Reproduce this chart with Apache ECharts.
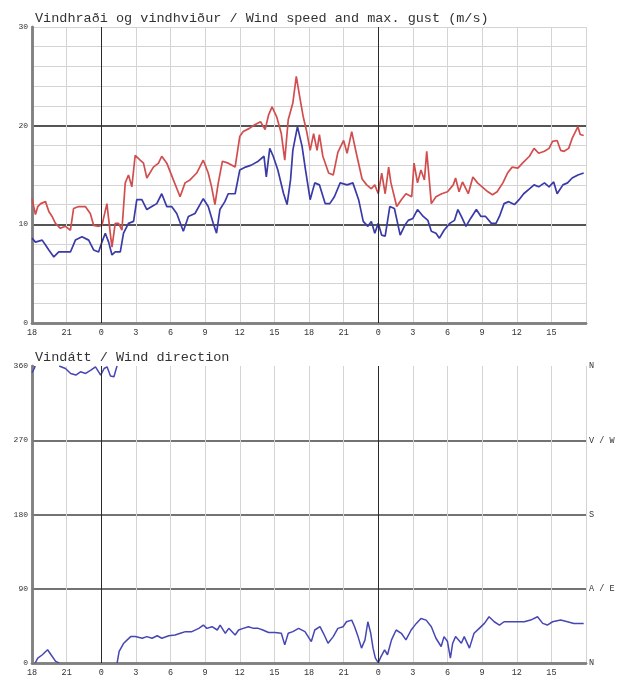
<!DOCTYPE html>
<html><head><meta charset="utf-8">
<script src="https://cdn.jsdelivr.net/npm/echarts@6/dist/echarts.min.js"></script>
<style>html,body{margin:0;padding:0;background:#fff}#c{width:622px;height:682px}</style>
</head><body><div id="c"></div>
<script>
const speedTitle = 'Vindhraði og vindhviður / Wind speed and max. gust (m/s)';
const dirTitle = 'Vindátt / Wind direction';
const hourStart = 18;            // clock hour at x = 0 (hours since start)
const midnightHours = [6, 30];
const speedTickLabels = [0, 10, 20, 30];
const dirTickLabels = ['N', 'A / E', 'S', 'V / W', 'N'];

// [hours since start, m/s]
const gust = [[0,12.6],[0.3,11.0],[0.5,11.8],[0.75,12.1],[1.17,12.3],[1.46,11.3],[1.74,10.8],[2.03,10.1],[2.46,9.6],[2.9,9.8],[3.33,9.4],[3.6,11.6],[4.05,11.8],[4.62,11.8],[5.05,11.1],[5.34,9.9],[5.77,9.8],[6.06,9.9],[6.49,12.1],[6.78,9.1],[6.93,7.7],[7.21,10.1],[7.5,10.1],[7.79,9.4],[8.08,14.2],[8.36,15],[8.65,13.8],[8.94,17],[9.37,16.5],[9.66,16.2],[9.95,14.7],[10.52,15.8],[10.96,16.2],[11.24,16.9],[11.68,16.2],[12.25,14.5],[12.83,12.8],[13.26,14.2],[13.69,14.5],[14.27,15.2],[14.84,16.5],[15.27,15.2],[15.56,13.8],[15.85,12],[16.14,14.2],[16.5,16.4],[17.0,16.2],[17.6,15.8],[18.0,18.9],[18.3,19.4],[18.8,19.7],[19.3,20.1],[19.8,20.4],[20.2,19.6],[20.5,21.1],[20.8,21.9],[21.2,20.9],[21.6,19.2],[21.9,16.5],[22.2,20.6],[22.6,22.3],[22.9,25],[23.2,22.9],[23.5,20.9],[23.8,19.4],[24.1,17.5],[24.4,19.2],[24.7,17.5],[24.9,19.1],[25.2,16.9],[25.7,15.2],[26.1,15],[26.5,17.3],[27.0,18.5],[27.3,17.2],[27.7,19.4],[28.1,17.2],[28.6,14.6],[29.0,14],[29.4,13.6],[29.7,14],[30.0,13.1],[30.3,15.2],[30.6,13.1],[30.9,15.8],[31.1,14.2],[31.6,11.8],[32.0,12.5],[32.4,13.1],[32.9,12.8],[33.1,16.2],[33.4,14.2],[33.7,15.5],[34.0,14.5],[34.2,17.4],[34.4,14.8],[34.6,12.1],[35.0,12.8],[35.5,13.1],[36.0,13.3],[36.5,14],[36.7,14.7],[37.0,13.3],[37.3,14.3],[37.8,13.1],[38.2,14.8],[38.6,14.2],[39.0,13.8],[39.5,13.3],[39.9,13],[40.3,13.3],[40.8,14.2],[41.2,15.2],[41.6,15.8],[42.1,15.7],[42.5,16.2],[43.1,16.9],[43.5,17.7],[43.9,17.2],[44.4,17.4],[44.8,17.7],[45.1,18.4],[45.5,18.5],[45.8,17.5],[46.1,17.4],[46.5,17.7],[46.8,18.7],[47.3,19.9],[47.5,19.1],[47.8,19.0]];

const mean = [[0,8.6],[0.3,8.2],[0.45,8.4],[0.88,8.4],[1.17,7.9],[1.46,7.4],[1.89,6.7],[2.32,7.2],[2.9,7.2],[3.33,7.2],[3.76,8.4],[4.33,8.75],[4.91,8.4],[5.34,7.4],[5.77,7.2],[6.06,8.2],[6.35,9.1],[6.64,8.2],[6.93,6.9],[7.21,7.2],[7.65,7.2],[7.93,9.1],[8.36,10.1],[8.8,10.3],[9.08,12.5],[9.52,12.5],[9.95,11.5],[10.38,11.8],[10.81,12.1],[11.24,13.1],[11.68,11.8],[12.1,11.8],[12.54,11.1],[13.11,9.3],[13.55,10.8],[14.12,11.1],[14.84,12.6],[15.27,11.8],[15.7,10.1],[15.99,9.1],[16.28,11.5],[16.71,12.3],[17.0,13.1],[17.6,13.1],[18.0,15.5],[18.5,15.8],[19.0,16],[19.6,16.4],[20.1,16.9],[20.3,14.8],[20.6,17.7],[20.9,16.9],[21.3,15.5],[21.8,13.1],[22.1,12],[22.4,14.5],[22.6,17.5],[23.0,19.9],[23.4,17.9],[23.7,15.5],[24.1,12.5],[24.5,14.2],[24.9,14],[25.4,12.1],[25.8,12.1],[26.2,12.8],[26.7,14.2],[27.3,14],[27.8,14.2],[28.3,12.5],[28.7,10.3],[29.1,9.8],[29.4,10.3],[29.7,9.1],[30.0,10.1],[30.3,8.9],[30.6,8.8],[31.0,11.8],[31.4,11.6],[31.9,8.9],[32.3,9.9],[32.6,10.4],[33.0,10.6],[33.4,11.5],[33.9,10.8],[34.3,10.4],[34.6,9.3],[35.0,9.1],[35.3,8.6],[35.7,9.4],[36.2,10.1],[36.6,10.4],[36.9,11.5],[37.2,10.8],[37.6,9.8],[38.0,10.6],[38.5,11.5],[38.9,10.8],[39.3,10.8],[39.8,10.1],[40.2,10.1],[40.5,10.8],[40.9,12.1],[41.3,12.3],[41.8,12],[42.2,12.5],[42.6,13.1],[43.1,13.6],[43.5,14],[43.9,13.8],[44.4,14.2],[44.8,13.8],[45.2,14.3],[45.5,13.1],[46.0,14],[46.4,14.2],[46.8,14.7],[47.3,15],[47.8,15.2]];

// [hours since start, degrees]
const direction = [[0,352],[0.2,357],[0.35,2],[0.5,6],[0.9,10],[1.35,16],[1.65,10],[2.05,2],[2.3,0.5],[2.4,359],[2.9,357],[3.35,351],[3.8,349],[4.2,353],[4.65,351],[5.1,355],[5.5,359],[5.95,349],[6.25,357],[6.5,359],[6.8,348],[7.1,347],[7.3,357],[7.45,0.5],[7.55,14],[7.95,24],[8.25,28],[8.55,32],[8.95,32],[9.55,30],[9.95,32],[10.4,30],[10.85,33],[11.25,30],[11.85,33],[12.4,34],[12.85,36],[13.3,38],[13.85,38],[14.45,42],[14.85,46],[15.15,42],[15.6,44],[16.05,40],[16.3,46],[16.75,36],[17.05,42],[17.6,34],[17.9,40],[18.3,42],[18.75,44],[19.2,42],[19.6,42],[20.0,40],[20.5,37],[21.05,37],[21.6,36],[21.9,22],[22.2,36],[22.6,38],[23.1,42],[23.65,38],[24.2,26],[24.5,40],[24.95,44],[25.25,36],[25.65,24],[26.1,32],[26.5,42],[26.95,44],[27.25,50],[27.7,52],[27.95,44],[28.25,32],[28.55,18],[28.85,28],[29.1,50],[29.35,36],[29.55,18],[29.75,6],[30.0,0.5],[30.25,8],[30.55,16],[30.8,10],[31.15,28],[31.55,40],[32.0,36],[32.4,28],[32.85,40],[33.3,48],[33.7,54],[34.15,52],[34.6,44],[35.0,30],[35.45,20],[35.7,32],[36.0,26],[36.25,6],[36.45,24],[36.7,32],[37.2,24],[37.45,32],[37.9,18],[38.3,36],[38.75,42],[39.2,48],[39.6,56],[40.05,50],[40.5,46],[40.9,50],[41.5,50],[42.05,50],[42.65,50],[43.2,52],[43.8,56],[44.25,48],[44.65,46],[45.1,50],[45.8,52],[46.4,50],[46.95,48],[47.8,48]];

// break the direction line where it wraps across N (0/360)
function wrapSegments(d) {
  const out = [];
  for (let i = 0; i < d.length; i++) {
    if (i > 0 && Math.abs(d[i][1] - d[i - 1][1]) > 180) {
      const t = (d[i][0] + d[i - 1][0]) / 2;
      const fromHigh = d[i - 1][1] > 180;
      out.push([t, fromHigh ? 360 : 0]);
      out.push([t, '-']);
      out.push([t, fromHigh ? 0 : 360]);
    }
    out.push(d[i]);
  }
  return out;
}

const MONO = 'Liberation Mono, DejaVu Sans Mono, monospace';
const frame = { show: true, lineStyle: { color: '#808080', width: 2.5 } };
const lightSplit = { show: true, lineStyle: { color: '#d4d4d4', width: 1 } };
const hourLabel = { fontSize: 8.5, color: '#333', fontFamily: MONO, margin: 5, showMaxLabel: false,
  formatter: v => String((hourStart + v) % 24) };

function xPair(grid) {
  return [
    { type: 'value', gridIndex: grid, min: 0, max: 48, interval: 3, position: 'bottom',
      axisLine: frame, axisTick: { show: false }, axisLabel: hourLabel, splitLine: lightSplit },
    { type: 'value', gridIndex: grid, min: 0, max: 48, interval: 3, position: 'top',
      axisLine: frame, axisTick: { show: false }, axisLabel: { show: false }, splitLine: { show: false } }
  ];
}

const midnightMark = {
  silent: true, symbol: ['none', 'none'], label: { show: false }, animation: false,
  lineStyle: { color: '#2a2a2a', width: 1, type: 'solid' },
  data: midnightHours.map(h => ({ xAxis: h }))
};

const option = {
  animation: false,
  backgroundColor: '#fff',
  title: [
    { text: speedTitle, left: 30, top: 6, textStyle: { fontFamily: MONO, fontSize: 13.5, fontWeight: 'normal', color: '#333' } },
    { text: dirTitle, left: 30, top: 345, textStyle: { fontFamily: MONO, fontSize: 13.5, fontWeight: 'normal', color: '#333' } }
  ],
  grid: [
    { left: 32, right: 36, top: 27, height: 296 },
    { left: 32, right: 36, top: 366, height: 297 }
  ],
  xAxis: [...xPair(0), ...xPair(1)],
  yAxis: [
    { type: 'value', gridIndex: 0, min: 0, max: 30, interval: 2, position: 'left',
      axisLine: frame, axisTick: { show: false }, splitLine: lightSplit,
      axisLabel: { fontSize: 8, color: '#333', fontFamily: MONO, margin: 4,
        formatter: v => speedTickLabels.includes(v) ? String(v) : '' } },
    { type: 'value', gridIndex: 0, min: 0, max: 30, interval: 10, position: 'right',
      axisLine: frame, axisTick: { show: false }, axisLabel: { show: false },
      splitLine: { show: true, showMinLine: false, showMaxLine: false, lineStyle: { color: '#555', width: 2 } } },
    { type: 'value', gridIndex: 1, min: 0, max: 360, interval: 90, position: 'left',
      axisLine: frame, axisTick: { show: false },
      axisLabel: { fontSize: 8, color: '#333', fontFamily: MONO, margin: 4 },
      splitLine: { show: true, showMinLine: false, showMaxLine: false, lineStyle: { color: '#444', width: 1.5 } } },
    { type: 'value', gridIndex: 1, min: 0, max: 360, interval: 90, position: 'right',
      axisLine: frame, axisTick: { show: true, length: 3, inside: false, lineStyle: { color: '#777' } },
      splitLine: { show: false },
      axisLabel: { fontSize: 8.5, color: '#333', fontFamily: MONO, margin: 3,
        formatter: v => dirTickLabels[Math.round(v / 90)] } }
  ],
  series: [
    { name: 'gust', type: 'line', xAxisIndex: 0, yAxisIndex: 0, data: gust, showSymbol: false,
      lineStyle: { color: '#d24e4e', width: 1.7 }, itemStyle: { color: '#d24e4e' }, z: 4 },
    { name: 'mean', type: 'line', xAxisIndex: 0, yAxisIndex: 0, data: mean, showSymbol: false,
      lineStyle: { color: '#3a3aa8', width: 1.7 }, itemStyle: { color: '#3a3aa8' }, z: 3,
      markLine: midnightMark },
    { name: 'direction', type: 'line', xAxisIndex: 2, yAxisIndex: 2, data: wrapSegments(direction), showSymbol: false,
      connectNulls: false, lineStyle: { color: '#4646b4', width: 1.5 }, itemStyle: { color: '#4646b4' }, z: 3,
      markLine: midnightMark }
  ]
};

const chart = echarts.init(document.getElementById('c'), null, { renderer: 'canvas' });
chart.setOption(option);
</script>
</body></html>
